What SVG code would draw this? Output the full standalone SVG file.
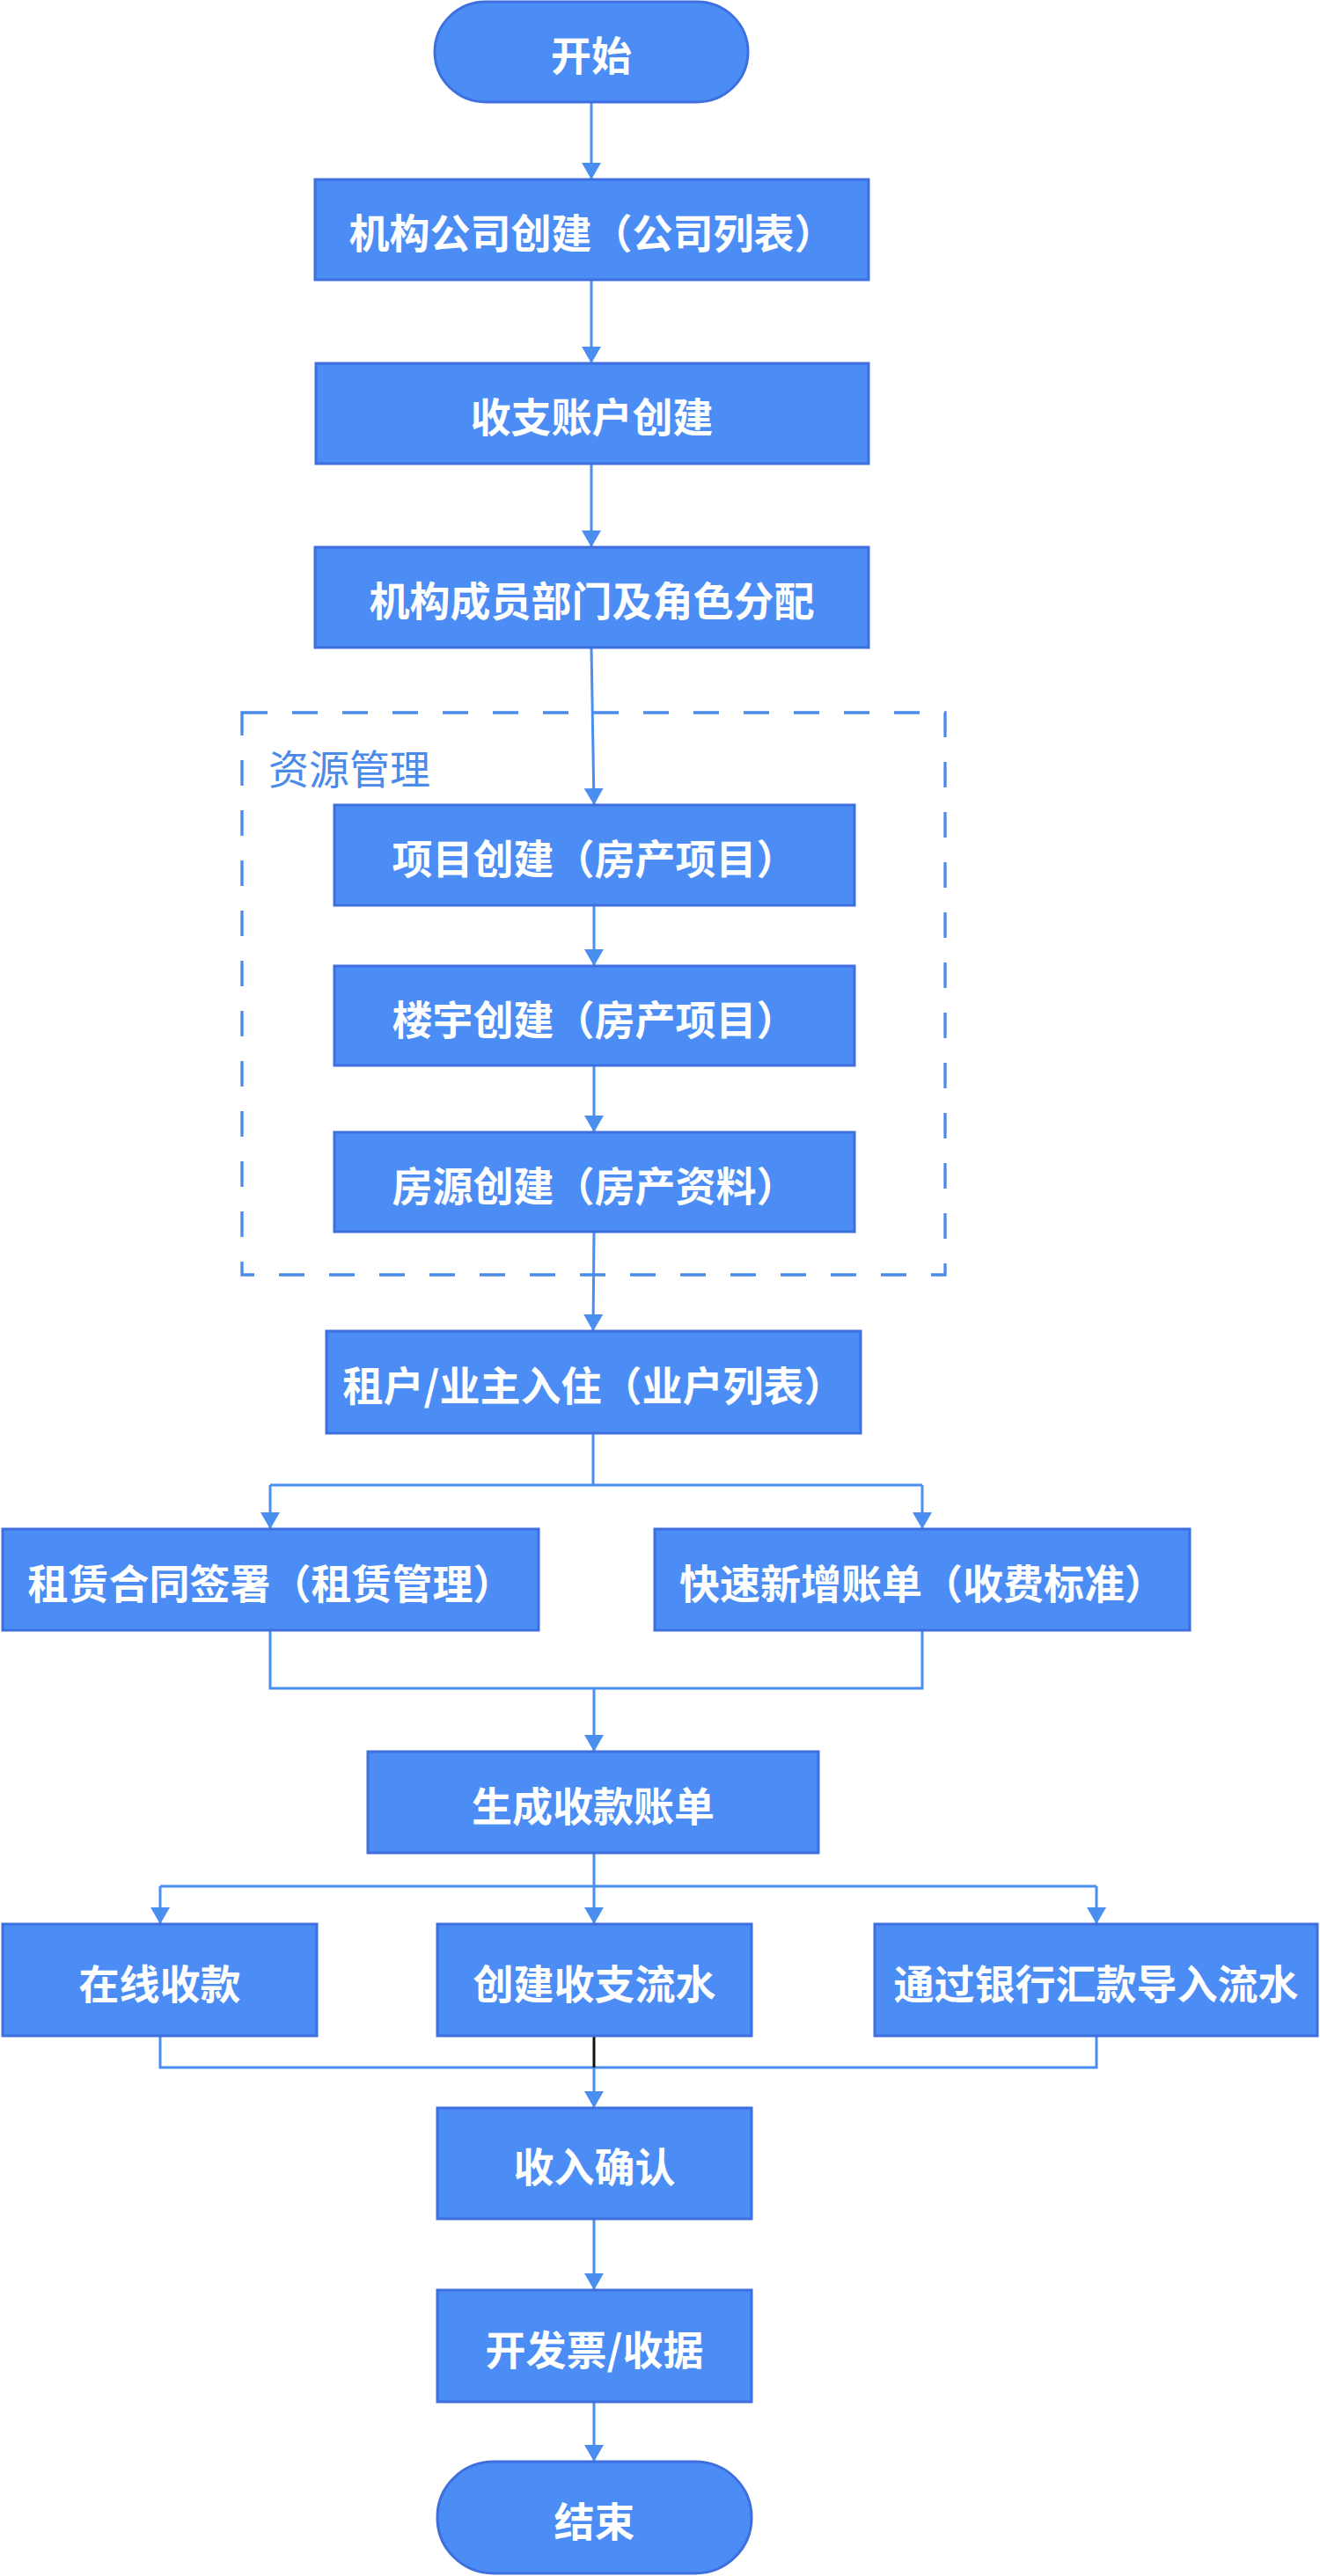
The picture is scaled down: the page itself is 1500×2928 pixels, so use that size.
<svg xmlns="http://www.w3.org/2000/svg" width="1500" height="2928" viewBox="0 0 1500 2928">
<style>
.node{fill:#4b8df4;stroke:#3f6fdf;stroke-width:3}
.t{font-family:"Noto Sans CJK SC","Noto Sans",sans-serif;font-weight:bold;font-size:46px;fill:#ffffff;text-anchor:middle}
.c{fill:none;stroke:#4a8ef0;stroke-width:3}
.grp{fill:none;stroke:#4a8ae8;stroke-width:3.3;stroke-dasharray:29 28}
.gl{font-family:"Noto Sans CJK SC","Noto Sans",sans-serif;font-size:46px;fill:#4a8ae8}
</style>
<defs>
<marker id="ah" markerUnits="userSpaceOnUse" viewBox="0 0 19 22" markerWidth="19" markerHeight="22" refX="19" refY="11" orient="auto">
<path d="M0,0 L19,11 L0,22 z" fill="#4a8ef0"/>
</marker>
</defs>
<rect width="1500" height="2928" fill="#ffffff"/>
<g id="group-resource">
<rect class="grp" x="275" y="810" width="799" height="639"/>
<text class="gl" x="305" y="891">资源管理</text>
</g>
<g id="connectors">
<path class="c" d="M672,116 V204" marker-end="url(#ah)"/>
<path class="c" d="M672,318 V413" marker-end="url(#ah)"/>
<path class="c" d="M672,527 V622" marker-end="url(#ah)"/>
<path class="c" d="M672,736 L675,915" marker-end="url(#ah)"/>
<path class="c" d="M675,1029 V1098" marker-end="url(#ah)"/>
<path class="c" d="M675,1211 V1287" marker-end="url(#ah)"/>
<path class="c" d="M675,1400 L674,1513" marker-end="url(#ah)"/>
<path class="c" d="M674,1629 V1688"/>
<path class="c" d="M307,1688 H1048"/>
<path class="c" d="M307,1688 V1738" marker-end="url(#ah)"/>
<path class="c" d="M1048,1688 V1738" marker-end="url(#ah)"/>
<path class="c" d="M307,1853 V1919 H1048 V1853"/>
<path class="c" d="M675,1919 V1991" marker-end="url(#ah)"/>
<path class="c" d="M675,2106 V2144"/>
<path class="c" d="M182,2144 H1246"/>
<path class="c" d="M182,2144 V2187" marker-end="url(#ah)"/>
<path class="c" d="M675,2144 V2187" marker-end="url(#ah)"/>
<path class="c" d="M1246,2144 V2187" marker-end="url(#ah)"/>
<path class="c" d="M182,2314 V2350 H1246 V2314"/>
<path d="M675,2314 V2350" fill="none" stroke="#111111" stroke-width="3"/>
<path class="c" d="M675,2350 V2396" marker-end="url(#ah)"/>
<path class="c" d="M675,2522 V2603" marker-end="url(#ah)"/>
<path class="c" d="M675,2730 V2798" marker-end="url(#ah)"/>
</g>
<g id="start">
<rect class="node" x="494" y="2" width="356" height="114" rx="58" ry="57"/>
<text class="t" x="672" y="80">开始</text>
</g>
<g id="n1">
<rect class="node" x="358" y="204" width="629" height="114"/>
<text class="t" x="672.5" y="282">机构公司创建（公司列表）</text>
</g>
<g id="n2">
<rect class="node" x="359" y="413" width="628" height="114"/>
<text class="t" x="672.5" y="491">收支账户创建</text>
</g>
<g id="n3">
<rect class="node" x="358" y="622" width="629" height="114"/>
<text class="t" x="672.5" y="700">机构成员部门及角色分配</text>
</g>
<g id="n4">
<rect class="node" x="380" y="915" width="591" height="114"/>
<text class="t" x="675.5" y="993">项目创建（房产项目）</text>
</g>
<g id="n5">
<rect class="node" x="380" y="1098" width="591" height="113"/>
<text class="t" x="675.5" y="1176">楼宇创建（房产项目）</text>
</g>
<g id="n6">
<rect class="node" x="380" y="1287" width="591" height="113"/>
<text class="t" x="675.5" y="1365">房源创建（房产资料）</text>
</g>
<g id="n7">
<rect class="node" x="371" y="1513" width="607" height="116"/>
<text class="t" x="674.5" y="1592">租户/业主入住（业户列表）</text>
</g>
<g id="n8">
<rect class="node" x="3" y="1738" width="609" height="115"/>
<text class="t" x="307.5" y="1817">租赁合同签署（租赁管理）</text>
</g>
<g id="n9">
<rect class="node" x="744" y="1738" width="608" height="115"/>
<text class="t" x="1048" y="1817">快速新增账单（收费标准）</text>
</g>
<g id="n10">
<rect class="node" x="418" y="1991" width="512" height="115"/>
<text class="t" x="674" y="2070">生成收款账单</text>
</g>
<g id="n11">
<rect class="node" x="3" y="2187" width="357" height="127"/>
<text class="t" x="181.5" y="2272">在线收款</text>
</g>
<g id="n12">
<rect class="node" x="497" y="2187" width="357" height="127"/>
<text class="t" x="675.5" y="2272">创建收支流水</text>
</g>
<g id="n13">
<rect class="node" x="994" y="2187" width="503" height="127"/>
<text class="t" x="1245.5" y="2272">通过银行汇款导入流水</text>
</g>
<g id="n14">
<rect class="node" x="497" y="2396" width="357" height="126"/>
<text class="t" x="675.5" y="2480">收入确认</text>
</g>
<g id="n15">
<rect class="node" x="497" y="2603" width="357" height="127"/>
<text class="t" x="675.5" y="2688">开发票/收据</text>
</g>
<g id="end">
<rect class="node" x="497" y="2798" width="357" height="127" rx="64" ry="63"/>
<text class="t" x="675.5" y="2883">结束</text>
</g>
</svg>
